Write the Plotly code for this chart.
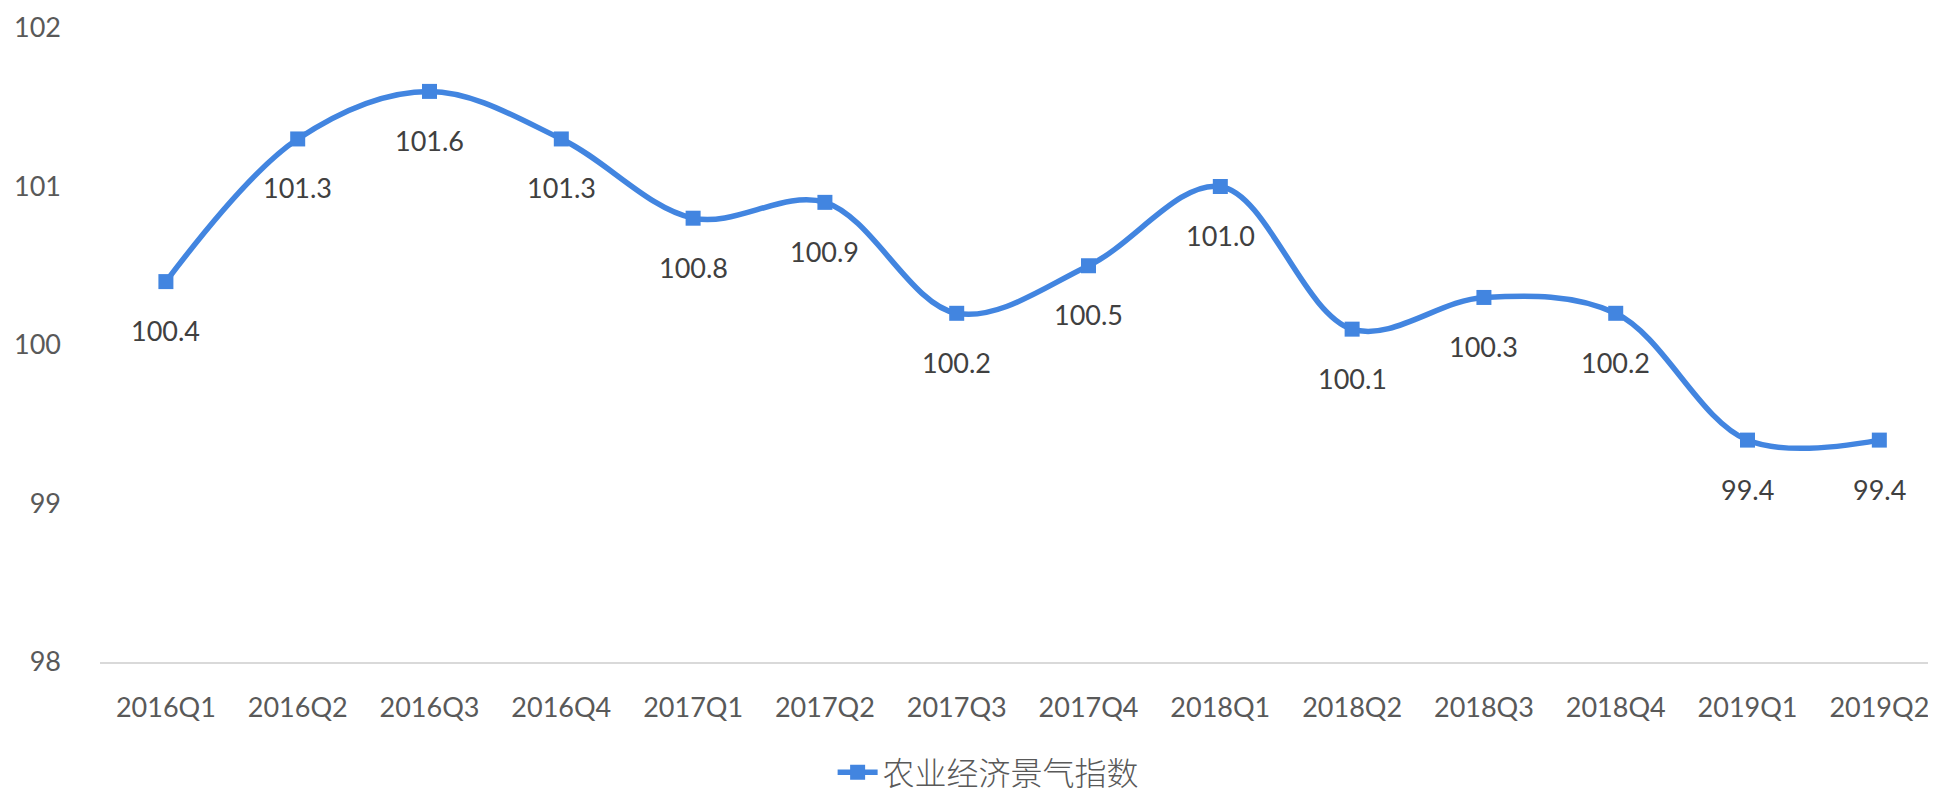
import plotly.graph_objects as go

categories = ["2016Q1", "2016Q2", "2016Q3", "2016Q4", "2017Q1", "2017Q2", "2017Q3",
              "2017Q4", "2018Q1", "2018Q2", "2018Q3", "2018Q4", "2019Q1", "2019Q2"]
values = [100.4, 101.3, 101.6, 101.3, 100.8, 100.9, 100.2,
          100.5, 101.0, 100.1, 100.3, 100.2, 99.4, 99.4]
series_name = "农业经济景气指数"
y_ticks = [98, 99, 100, 101, 102]

NUM_FONT = "Lato, Noto Sans CJK SC, sans-serif"
CJK_FONT = "Noto Sans CJK SC, Noto Sans, sans-serif"
LINE_COLOR = "#4285E0"

fig = go.Figure()
fig.add_trace(go.Scatter(
    x=categories, y=values, name=series_name,
    mode="lines+markers",
    line=dict(color=LINE_COLOR, width=5.5, shape="spline", smoothing=1.0),
    marker=dict(symbol="square", size=15, color=LINE_COLOR),
))

for c, v in zip(categories, values):
    fig.add_annotation(x=c, y=v, text=f"{v:.1f}", showarrow=False,
                       yshift=-49,
                       font=dict(family=NUM_FONT, size=27, color="#404040", weight=400))

fig.update_layout(
    width=1928, height=792,
    margin=dict(l=92, r=0, t=20, b=136),
    paper_bgcolor="white", plot_bgcolor="white",
    font=dict(family=NUM_FONT, size=27, color="#595959", weight=400),
    showlegend=True,
    legend=dict(orientation="h", x=0.484, xanchor="center", y=-0.1745, yanchor="middle",
                font=dict(family=CJK_FONT, size=32, color="#595959", weight=300), itemwidth=40),
    xaxis=dict(type="category", range=[-0.5, 13.43], showgrid=False, zeroline=False,
               automargin=False, ticklabeloverflow="allow",
               showline=True, linecolor="#D9D9D9", linewidth=2,
               ticks="outside", ticklen=21, tickcolor="rgba(0,0,0,0)",
               tickfont=dict(family=NUM_FONT, size=27, color="#595959", weight=400)),
    yaxis=dict(range=[98, 102], tickvals=y_ticks, showgrid=False, zeroline=False,
               automargin=False, ticklabeloverflow="allow",
               showline=False, ticklabelstandoff=38,
               tickfont=dict(family=NUM_FONT, size=27, color="#595959", weight=400)),
)

fig.write_html("out.html")
